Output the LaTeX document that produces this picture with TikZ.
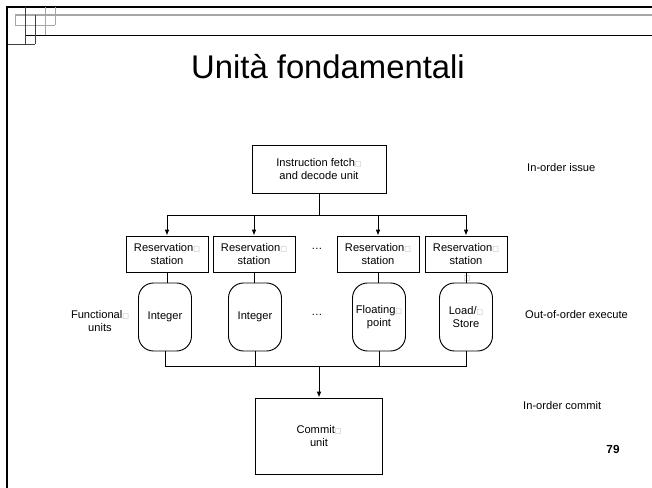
\documentclass[tikz,border=0pt]{standalone}
\usepackage{fontspec}
\setmainfont{Liberation Sans}
\newfontfamily\symfont{DejaVu Sans}
\usetikzlibrary{arrows.meta,positioning}
\newcommand{\lbx}{{\symfont\fontsize{6}{6}\selectfont\color{gray!60}□}}
\tikzset{
  txt/.style={font=\fontsize{9.5}{11.5}\selectfont, align=center, inner sep=0pt},
  unitbox/.style={txt, draw, line width=0.8pt},
  rsbox/.style={unitbox, minimum width=2.46cm, minimum height=1.08cm},
  fubox/.style={unitbox, rounded corners=0.45cm, minimum width=1.59cm, minimum height=2.04cm},
  wire/.style={line width=0.8pt},
  arr/.style={wire, -{Latex[length=5pt,width=4pt]}},
  deco/.style={gray!70, line width=0.8pt}
}
\begin{document}
\begin{tikzpicture}[x=0.03cm,y=-0.03cm]
\useasboundingbox (0,0) rectangle (652,488);
% slide frame
\draw[line width=2.2pt] (7,488) -- (7,7) -- (652,7);
\draw[gray!70, line width=1.6pt] (15,15) -- (652,15);
\draw[wire] (25,35) -- (652,35);
\draw[deco] (15,15) rectangle (25,25) (45,7) -- (45,35) (55,7) -- (55,25) (15,25) -- (55,25);
\draw[black!75, line width=0.8pt] (25,7) -- (25,44) (35,15) -- (35,44) (8,44) -- (35,44);
% title
\node (title) at (328,67) {\fontsize{28}{30}\selectfont Unità fondamentali};
% units
\node[unitbox, minimum width=4.02cm, minimum height=1.44cm] (fetch) at (319,169) {Instruction fetch\lbx\\and decode unit};
\node[rsbox] (rs1) at (167,254) {Reservation\lbx\\station};
\node[rsbox] (rs2) at (254,254) {Reservation\lbx\\station};
\node[rsbox] (rs3) at (378,254) {Reservation\lbx\\station};
\node[rsbox] (rs4) at (466,254) {Reservation\lbx\\station};
\node[fubox] (fu1) at (165,317) {Integer};
\node[fubox] (fu2) at (255,317) {Integer};
\node[fubox] (fu3) at (379,317) {Floating\lbx\\point};
\node[fubox] (fu4) at (466,317) {Load/\lbx\\Store};
\node[unitbox, minimum width=3.81cm, minimum height=2.28cm] (commit) at (319,436) {Commit\lbx\\unit};
\node[txt] (dots1) at (317,249) {…};
\node[txt] (dots2) at (317,315) {…};
\node (stray) at (467,279) {\lbx};
% side labels
\node[txt] (fulabel) at (100,321) {Functional\lbx\\units};
\node[txt, anchor=west] (issue) at (527,168) {In-order issue};
\node[txt, anchor=west] (exec) at (525,315) {Out-of-order execute};
\node[txt, anchor=west] (cmt) at (523,406) {In-order commit};
\node[font=\fontsize{10}{12}\selectfont\bfseries] (page) at (613,449) {79};
% connectors
\coordinate (split) at (319,215);
\coordinate (join) at (319,366);
\draw[wire] (fetch) -- (split);
\foreach \n in {rs1,rs2,rs3,rs4}
  \draw[arr] (split) -| (\n.north);
\draw[wire] (rs1) -- (rs1 |- fu1.north) (rs2) -- (rs2 |- fu2.north) (rs3) -- (rs3 |- fu3.north) (rs4) -- (rs4 |- fu4.north);
\foreach \n in {fu1,fu2,fu3,fu4}
  \draw[wire] (\n.south) |- (join);
\draw[arr] (join) -- (commit.north);
\end{tikzpicture}
\end{document}
